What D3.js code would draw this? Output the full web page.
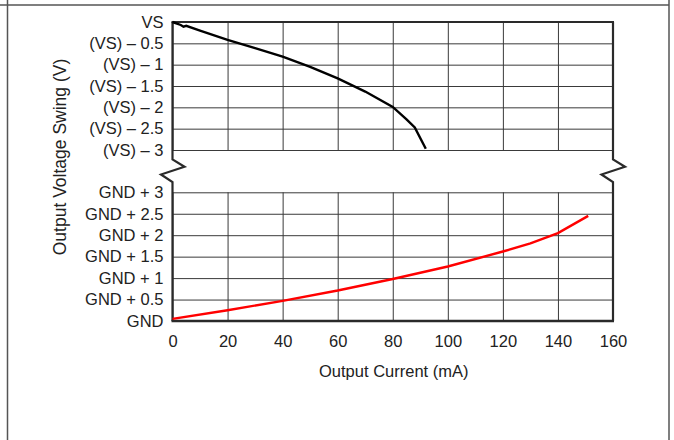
<!DOCTYPE html>
<html>
<head>
<meta charset="utf-8">
<script src="https://cdn.jsdelivr.net/npm/d3@7"></script>
<style>
  html, body { margin: 0; padding: 0; background: #fff; }
  svg text { font-family: "Liberation Sans", Arial, Helvetica, sans-serif; fill: #222; }
</style>
</head>
<body>
<svg id="chart" width="674" height="440"></svg>
<script>
// ---- data ----
const xTicks = [0, 20, 40, 60, 80, 100, 120, 140, 160];
const upperTicks = [0, 0.5, 1, 1.5, 2, 2.5, 3];            // drop below VS
const upperLabels = ["VS", "(VS) – 0.5", "(VS) – 1", "(VS) – 1.5", "(VS) – 2", "(VS) – 2.5", "(VS) – 3"];
const lowerTicks = [0, 0.5, 1, 1.5, 2, 2.5, 3];            // above GND
const lowerLabels = ["GND", "GND + 0.5", "GND + 1", "GND + 1.5", "GND + 2", "GND + 2.5", "GND + 3"];

// High-side swing: output current (mA) and drop from VS (V)
const highCurrent = [0, 3, 4, 5, 10, 20, 30, 40, 50, 60, 70, 80, 85, 88, 92];
const highDrop    = [0, 0.07, 0.11, 0.09, 0.2, 0.42, 0.61, 0.81, 1.05, 1.32, 1.63, 1.99, 2.28, 2.47, 2.97];
// Low-side swing: output current (mA) and voltage above GND (V)
const lowCurrent  = [0, 20, 40, 60, 80, 100, 120, 130, 140, 151];
const lowVolt     = [0.05, 0.25, 0.47, 0.71, 0.98, 1.27, 1.62, 1.81, 2.05, 2.45];

const xTitle = "Output Current (mA)";
const yTitle = "Output Voltage Swing (V)";

// ---- layout ----
const svg = d3.select("#chart");
const L = 172.5, R = 613;
const upTop = 22, upBot = 150;
const loTop = 192.3, loBot = 321;

const x = d3.scaleLinear().domain([0, 160]).range([L, R]);
const yUp = d3.scaleLinear().domain([0, 3]).range([upTop, upBot]);
const yLo = d3.scaleLinear().domain([0, 3]).range([loBot, loTop]);

// outer frame
const frame = svg.append("g").attr("stroke", "#555").attr("stroke-width", 1.5).attr("fill", "none");
frame.append("line").attr("x1", 0).attr("x2", 669).attr("y1", 5).attr("y2", 5);
frame.append("line").attr("x1", 7.5).attr("x2", 7.5).attr("y1", 0).attr("y2", 440);
frame.append("line").attr("x1", 669).attr("x2", 669).attr("y1", 0).attr("y2", 440);

const fontSize = "16.5px";
const ff = '"Liberation Sans", Arial, sans-serif';

// grids via axes
function grid(g, yScale, ticks, top, bot) {
  g.append("g")
    .attr("transform", `translate(${L},0)`)
    .call(d3.axisRight(yScale).tickValues(ticks).tickSize(R - L).tickFormat(""))
    .call(a => a.select(".domain").remove())
    .call(a => a.selectAll("line").attr("stroke", "#3a3a3a").attr("stroke-width", 1));
  g.append("g")
    .attr("transform", `translate(0,${top})`)
    .call(d3.axisBottom(x).tickValues(xTicks).tickSize(bot - top).tickFormat(""))
    .call(a => a.select(".domain").remove())
    .call(a => a.selectAll("line").attr("stroke", "#3a3a3a").attr("stroke-width", 1));
}
grid(svg.append("g"), yUp, upperTicks, upTop, upBot);
grid(svg.append("g"), yLo, lowerTicks, loTop, loBot);

// y tick labels
function yLabels(yScale, ticks, labels) {
  const ax = svg.append("g")
    .attr("transform", `translate(${L - 9},0)`)
    .call(d3.axisLeft(yScale).tickValues(ticks).tickSize(0).tickPadding(0)
      .tickFormat((d, i) => labels[i]));
  ax.select(".domain").remove();
  ax.selectAll("text").style("font-size", fontSize).attr("fill", "#222").style("font-family", ff);
}
yLabels(yUp, upperTicks, upperLabels);
yLabels(yLo, lowerTicks, lowerLabels);

// x tick labels
const xa = svg.append("g")
  .attr("transform", `translate(0,${loBot + 11})`)
  .call(d3.axisBottom(x).tickValues(xTicks).tickSize(0).tickPadding(3).tickFormat(d3.format("d")));
xa.select(".domain").remove();
xa.selectAll("text").style("font-size", fontSize).attr("fill", "#222").style("font-family", ff);

// plot border with break symbols
const bw = svg.append("g").attr("stroke", "#2a2a2a").attr("fill", "none")
  .attr("stroke-linejoin", "miter");
function side(px) {
  return d3.line()([
    [px, upTop], [px, 159.5], [px + 12, 166.7], [px - 11.5, 174.5], [px, 182], [px, loBot]
  ]);
}
bw.append("path").attr("d", side(L)).attr("stroke-width", 2.2);
bw.append("path").attr("d", side(R)).attr("stroke-width", 2.2);
bw.append("line").attr("x1", L - 1).attr("x2", R + 1).attr("y1", upTop).attr("y2", upTop).attr("stroke-width", 2.2);
bw.append("line").attr("x1", L - 1).attr("x2", R + 1).attr("y1", loBot).attr("y2", loBot).attr("stroke-width", 2.6);

// curves
const line = d3.line().curve(d3.curveLinear);
svg.append("path")
  .attr("d", line(highCurrent.map((c, i) => [x(c), yUp(highDrop[i])])))
  .attr("fill", "none").attr("stroke", "#000").attr("stroke-width", 2.4);
svg.append("path")
  .attr("d", line(lowCurrent.map((c, i) => [x(c), yLo(lowVolt[i])])))
  .attr("fill", "none").attr("stroke", "#ff0000").attr("stroke-width", 2.4);

// titles
svg.append("text").attr("x", (L + R) / 2 + 1).attr("y", 377)
  .attr("text-anchor", "middle").style("font-size", fontSize).style("font-family", ff).text(xTitle);
svg.append("text").attr("transform", `translate(66,157) rotate(-90)`)
  .attr("text-anchor", "middle").style("font-size", "17.5px").style("font-family", ff).text(yTitle);
</script>
</body>
</html>
